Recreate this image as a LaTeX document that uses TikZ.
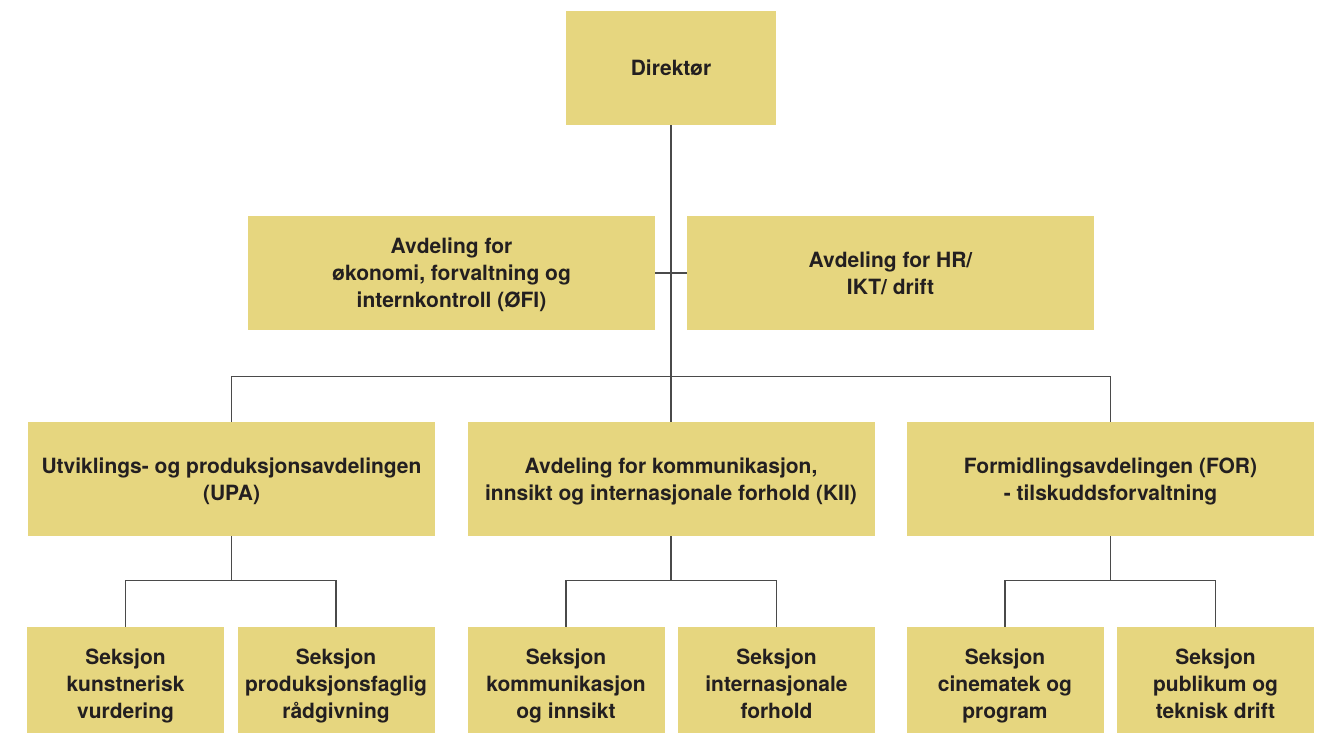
\documentclass[tikz,border=0pt]{standalone}
\usepackage{fontspec}
\setmainfont{TeX Gyre Heros}
\usepackage{tikz}

\definecolor{boxgold}{HTML}{E6D67F}
\definecolor{textgray}{HTML}{231F20}
\definecolor{linegray}{HTML}{4A4A4A}

\tikzset{
  unitbox/.style={fill=boxgold, text=textgray, align=center, minimum height=114,
    inner sep=0pt, text depth=-1pt, font=\fontsize{21}{27}\selectfont\bfseries},
  bigbox/.style={unitbox, minimum width=407},
  smallbox/.style={unitbox, minimum width=197},
  link/.style={draw=linegray, line width=1.4pt}
}

\begin{document}
\begin{tikzpicture}[x=1pt, y=-1pt]
    \useasboundingbox (0,0) rectangle (1325,733);

    % Draw the top box
    \node[unitbox, minimum width=210] (dir) at (671,68) {Direktør};

    % Draw the staff departments
    \node[bigbox] (oefi) at (451.5,273) {Avdeling for\\økonomi, forvaltning og\\internkontroll (ØFI)};
    \node[bigbox] (hr) at (890.5,273) {Avdeling for HR/\\IKT/ drift};

    % Draw the main departments
    \node[bigbox] (upa) at (231.5,479) {Utviklings- og produksjonsavdelingen\\(UPA)};
    \node[bigbox] (kii) at (671,479) {Avdeling for kommunikasjon,\\innsikt og internasjonale forhold (KII)};
    \node[bigbox] (for) at (1110.5,479) {Formidlingsavdelingen (FOR)\\- tilskuddsforvaltning};

    % Draw the sections
    \node[smallbox] (sk1) at (125.5,684) {Seksjon\\kunstnerisk\\vurdering};
    \node[smallbox] (sk2) at (336,684) {Seksjon\\produksjonsfaglig\\rådgivning};
    \node[smallbox] (sk3) at (566,684) {Seksjon\\kommunikasjon\\og innsikt};
    \node[smallbox] (sk4) at (776.5,684) {Seksjon\\internasjonale\\forhold};
    \node[smallbox] (sk5) at (1005,684) {Seksjon\\cinematek og\\program};
    \node[smallbox] (sk6) at (1215.5,684) {Seksjon\\publikum og\\teknisk drift};

    % Draw the connectors
    \draw[link] (oefi.east) -- (hr.west);
    \draw[link] (dir.south) -- ++(0,251) -| (upa.north);
    \draw[link] (dir.south) -- ++(0,251) -| (for.north);
    \draw[link] (dir.south) -- (kii.north);

    \draw[link] (upa.south) -- ++(0,44) -| (sk1.north);
    \draw[link] (upa.south) -- ++(0,44) -| (sk2.north);
    \draw[link] (kii.south) -- ++(0,44) -| (sk3.north);
    \draw[link] (kii.south) -- ++(0,44) -| (sk4.north);
    \draw[link] (for.south) -- ++(0,44) -| (sk5.north);
    \draw[link] (for.south) -- ++(0,44) -| (sk6.north);
\end{tikzpicture}
\end{document}
